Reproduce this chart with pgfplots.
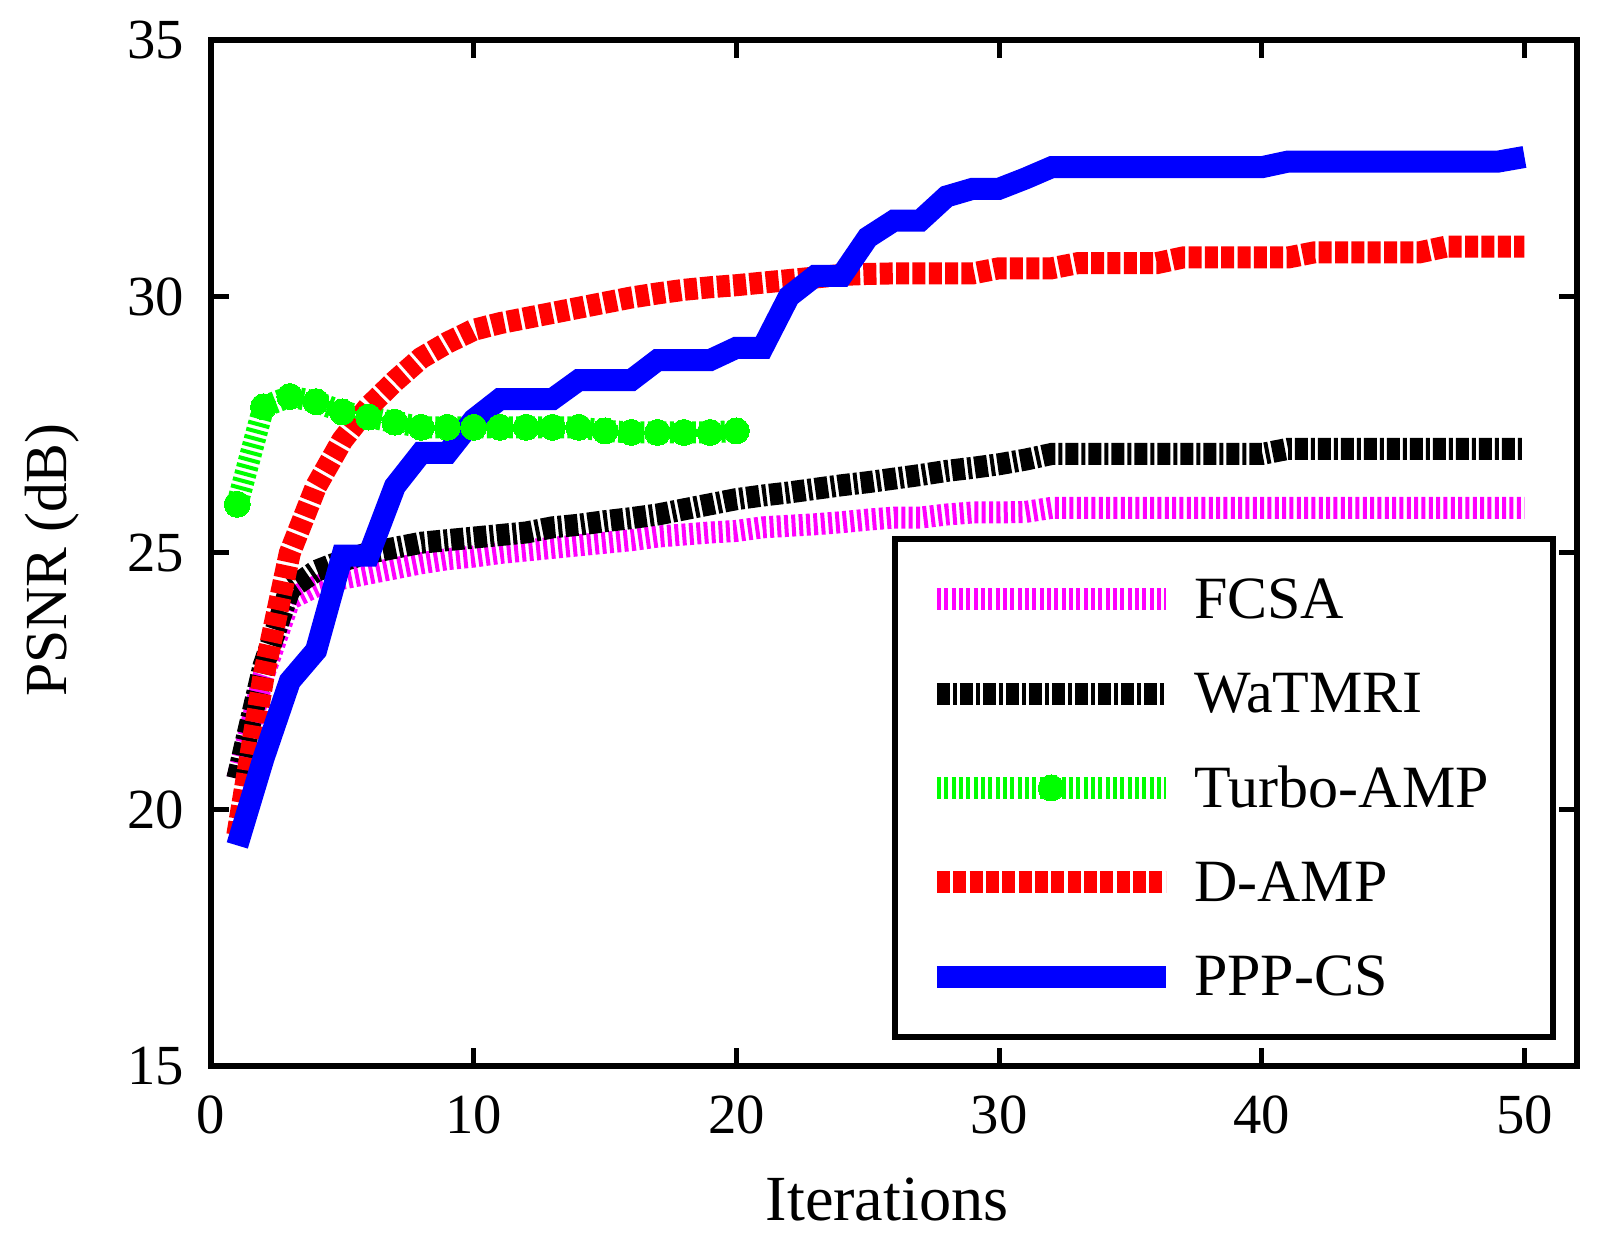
\documentclass[border=0pt]{standalone}
\usepackage{fontspec}
\setmainfont{Liberation Serif}
\usepackage{pgfplots}
\pgfplotsset{compat=1.18}
\definecolor{cmag}{RGB}{255,0,255}
\definecolor{cgrn}{RGB}{0,255,0}
\definecolor{cred}{RGB}{255,0,0}
\definecolor{cblu}{RGB}{0,0,255}
\begin{document}
\begin{tikzpicture}
\begin{axis}[
  scale only axis,
  width=409.8pt, height=307.8pt,
  xmin=0, xmax=52, ymin=15, ymax=35,
  xtick={0,10,20,30,40,50},
  ytick={15,20,25,30,35},
  axis line style={line width=1.8pt},
  every tick/.style={black, line width=1.5pt},
  major tick length=5.4pt,
  tick align=inside,
  /pgf/number format/assume math mode=true,
  ticklabel style={font=\fontsize{17}{17}\selectfont, inner sep=0pt},
  xticklabel style={anchor=north, yshift=-8.7pt},
  yticklabel style={anchor=east, xshift=-7.8pt},
  xlabel={Iterations},
  ylabel={PSNR (dB)},
  xlabel style={font=\fontsize{19.3}{19.3}\selectfont, at={(axis description cs:0.495,-0.1306)}, anchor=center},
  ylabel style={font=\fontsize{17.9}{17.9}\selectfont, at={(axis description cs:-0.116,0.493)}, anchor=center},
  legend cell align=left,
  legend image code/.code={\draw[mark repeat=2,mark phase=2,#1] plot coordinates {(0pt,0pt) (34.3pt,0pt) (68.6pt,0pt)};},
  legend style={
    at={(rel axis cs:0.9847,0.0253)}, anchor=south east,
    draw=black, line width=1.8pt,
    font=\fontsize{18}{18}\selectfont,
    inner xsep=9.2pt, inner ysep=4pt,
    column sep=5.3pt, row sep=0pt,
    nodes={inner sep=0pt, text height=19.95pt, text depth=8.35pt},
  },
]
\addplot[cmag, line width=6.6pt, dash pattern=on 1.2pt off 1pt] coordinates {
(1,20.6) (2,22.6) (3,24.1) (4,24.35) (5,24.5) (6,24.6) (7,24.7) (8,24.8) (9,24.88) (10,24.93)
(11,25.0) (12,25.05) (13,25.1) (14,25.15) (15,25.2) (16,25.25) (17,25.32) (18,25.36) (19,25.4) (20,25.43)
(21,25.5) (22,25.53) (23,25.56) (24,25.6) (25,25.65) (26,25.69) (27,25.69) (28,25.75) (29,25.79) (30,25.79)
(31,25.8) (32,25.88) (33,25.88) (34,25.88) (35,25.88) (36,25.88) (37,25.88) (38,25.88) (39,25.88) (40,25.88)
(41,25.88) (42,25.88) (43,25.88) (44,25.88) (45,25.88) (46,25.88) (47,25.88) (48,25.88) (49,25.88) (50,25.88)
};
\addplot[black, line width=6.6pt, dash pattern=on 3.9pt off 0.9pt on 1.2pt off 0.9pt] coordinates {
(1,20.6) (2,22.8) (3,24.3) (4,24.65) (5,24.85) (6,25.0) (7,25.1) (8,25.2) (9,25.25) (10,25.3)
(11,25.35) (12,25.4) (13,25.5) (14,25.55) (15,25.62) (16,25.68) (17,25.75) (18,25.85) (19,25.95) (20,26.05)
(21,26.12) (22,26.18) (23,26.25) (24,26.32) (25,26.38) (26,26.45) (27,26.52) (28,26.6) (29,26.66) (30,26.73)
(31,26.82) (32,26.93) (33,26.93) (34,26.93) (35,26.93) (36,26.93) (37,26.93) (38,26.93) (39,26.93) (40,26.93)
(41,27.03) (42,27.03) (43,27.03) (44,27.03) (45,27.03) (46,27.03) (47,27.03) (48,27.03) (49,27.03) (50,27.03)
};
\addplot[cgrn, line width=6.6pt, dash pattern=on 1.2pt off 1pt, mark=*, mark size=3.9pt,
  mark options={solid, fill=cgrn, draw=cgrn, line width=0pt}] coordinates {
(1,25.95) (2,27.85) (3,28.05) (4,27.95) (5,27.75) (6,27.65) (7,27.55) (8,27.45) (9,27.45) (10,27.45)
(11,27.45) (12,27.45) (13,27.45) (14,27.45) (15,27.38) (16,27.35) (17,27.35) (18,27.35) (19,27.35) (20,27.38)
};
\addplot[cred, line width=6.6pt, dash pattern=on 3.9pt off 1pt] coordinates {
(1,19.5) (2,22.6) (3,25.0) (4,26.3) (5,27.2) (6,27.85) (7,28.35) (8,28.8) (9,29.1) (10,29.35)
(11,29.48) (12,29.58) (13,29.68) (14,29.78) (15,29.88) (16,29.98) (17,30.06) (18,30.13) (19,30.18) (20,30.22)
(21,30.27) (22,30.32) (23,30.37) (24,30.42) (25,30.44) (26,30.45) (27,30.45) (28,30.45) (29,30.45) (30,30.55)
(31,30.55) (32,30.55) (33,30.65) (34,30.65) (35,30.65) (36,30.65) (37,30.76) (38,30.76) (39,30.76) (40,30.76)
(41,30.76) (42,30.86) (43,30.86) (44,30.86) (45,30.86) (46,30.86) (47,30.97) (48,30.97) (49,30.97) (50,30.97)
};
\addplot[cblu, line width=6.6pt] coordinates {
(1,19.3) (2,21.0) (3,22.5) (4,23.1) (5,24.95) (6,24.95) (7,26.3) (8,26.95) (9,26.95) (10,27.6)
(11,28.0) (12,28.0) (13,28.0) (14,28.37) (15,28.37) (16,28.37) (17,28.76) (18,28.76) (19,28.76) (20,29.0)
(21,29.0) (22,30.0) (23,30.4) (24,30.4) (25,31.15) (26,31.48) (27,31.48) (28,31.95) (29,32.1) (30,32.1)
(31,32.3) (32,32.52) (33,32.52) (34,32.52) (35,32.52) (36,32.52) (37,32.52) (38,32.52) (39,32.52) (40,32.52)
(41,32.63) (42,32.63) (43,32.63) (44,32.63) (45,32.63) (46,32.63) (47,32.63) (48,32.63) (49,32.63) (50,32.72)
};
\legend{FCSA, WaTMRI, Turbo-AMP\hspace*{10.1pt}, D-AMP, PPP-CS}
\end{axis}
\pgfresetboundingbox
\useasboundingbox ([shift={(-63.3pt,-53.7pt)}]current axis.south west) rectangle ([shift={(9.3pt,12pt)}]current axis.north east);
\end{tikzpicture}
\end{document}
